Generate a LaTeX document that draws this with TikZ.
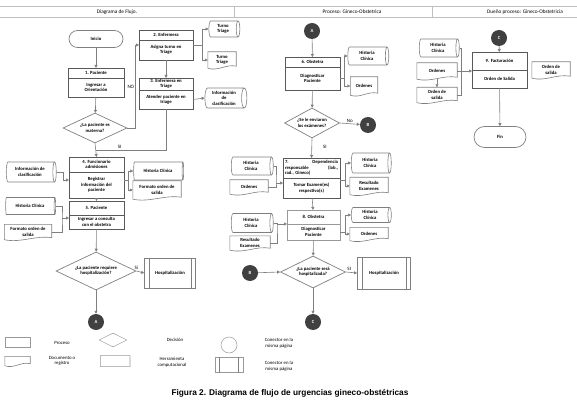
\documentclass[tikz,border=0pt]{standalone}
\usepackage{fontspec}
\setmainfont{Carlito}
\newfontfamily\capfont{Liberation Sans}
\usepackage{tikz}
\usetikzlibrary{positioning,arrows.meta,shapes.geometric,shapes.misc,calc}
\usepackage{xcolor}
\definecolor{lngray}{HTML}{7F7F7F}
\definecolor{boxgray}{HTML}{595959}
\definecolor{conngray}{HTML}{404040}

\begin{document}
\begin{tikzpicture}[x=1pt, y=-1pt,
    font=\fontsize{4.7}{5.4}\selectfont\bfseries,
    hdr/.style={draw=boxgray, line width=0.9pt, inner sep=0.5pt, outer sep=0pt, align=center},
    bdy/.style={hdr},
    term/.style={draw=lngray, line width=0.7pt, rounded rectangle, inner sep=1pt},
    dec/.style={draw=lngray, line width=0.7pt, diamond, inner sep=0pt, align=center},
    store/.style={draw=lngray, line width=0.6pt, cylinder, shape aspect=0.35, inner sep=0.5pt, align=center},
    doc/.style={inner sep=0.5pt, align=center},
    docln/.style={draw=lngray, line width=0.6pt},
    subproc/.style={draw=lngray, line width=0.7pt, align=center},
    conn/.style={circle, fill=conngray, text=white, minimum size=16pt, inner sep=0pt},
    flow/.style={draw=lngray, line width=0.6pt, -{Triangle[length=3pt, width=3pt]}},
    link/.style={draw=lngray, line width=0.6pt},
    lbl/.style={font=\fontsize{5}{6}\selectfont, inner sep=1pt},
    legshape/.style={draw=black!40, line width=0.5pt},
    legtxt/.style={font=\fontsize{4.8}{5.6}\selectfont\mdseries, align=center},
]
\useasboundingbox (0,0) rectangle (577,403);

% encabezado
\draw[black!25, line width=0.5pt] (0,6) -- (577,6) (0,17) -- (577,17) (234,6) -- (234,17) (432,6) -- (432,17);
\node[font=\fontsize{5.3}{6}\selectfont\mdseries] (tit1) at (117,12) {Diagrama de Flujo.};
\node[font=\fontsize{5.3}{6}\selectfont\mdseries] (tit2) at (352,12) {Proceso: Gineco-Obstetrica};
\node[font=\fontsize{5.3}{6}\selectfont\mdseries] (tit3) at (525,12) {Dueño proceso: Gineco-Obstetricia};

% columna 1 (cilindros: minimum height = largo, minimum width = alto)
\node[term, minimum width=56, minimum height=17] (Ini) at (96,39) {Inicio};
\node[hdr, minimum width=56, minimum height=10] (P1h) at (96,73) {1. Paciente};
\node[bdy, minimum width=56, minimum height=19, below=0pt of P1h] (P1) {Ingresar a\\Orientación};
\node[dec, aspect=2.1, minimum width=64, minimum height=30] (D1) at (95,128) {¿La paciente es\\materna?};
\node[hdr, minimum width=54, minimum height=10] (P2h) at (166,35) {2. Enfermera};
\node[bdy, minimum width=54, minimum height=20, below=0pt of P2h] (P2) {Asigna turno en\\Triage};
\node[store, minimum height=31, minimum width=16] (T1) at (223,29) {Turno\\Triage};
\node[doc, minimum width=28, minimum height=16] (T2) at (222,60) {Turno\\Triage};
\node[hdr, minimum width=54, minimum height=12] (P3h) at (166,84) {3. Enfermera en\\Triage};
\node[bdy, minimum width=54, minimum height=19, below=0pt of P3h] (P3) {Atender paciente en\\triage};
\node[store, minimum height=42, minimum width=20] (IC1) at (224,98) {Información\\de\\clasificación};
\node[hdr, minimum width=55, minimum height=15] (P4h) at (96.5,164.5) {4. Funcionario\\admisiones};
\node[bdy, minimum width=55, minimum height=26, below=0pt of P4h] (P4) {Registrar\\información del\\paciente};
\node[store, minimum height=50, minimum width=20] (IC2) at (30,172) {Información de\\clasificación};
\node[store, minimum height=50, minimum width=18] (HC1) at (158,171) {Historia Clínica};
\node[doc, minimum width=48, minimum height=18] (FO1) at (157,190) {Formato orden de\\salida};
\node[hdr, minimum width=55, minimum height=14] (P5h) at (96.5,208) {5. Paciente};
\node[bdy, minimum width=55, minimum height=14, below=0pt of P5h] (P5) {Ingresar a consulta\\con el obstetra};
\node[store, minimum height=50, minimum width=17] (HC2) at (30,206) {Historia Clínica};
\node[doc, minimum width=47, minimum height=15] (FO2) at (28,232) {Formato orden de\\salida};
\node[dec, aspect=2.1, minimum width=80, minimum height=38] (D2) at (96,271) {¿La paciente requiere\\hospitalización?};
\node[subproc, minimum width=51, minimum height=30] (H1) at (170,273) {Hospitalización};
\node[conn] (A1) at (96,322) {A};

% columna 2
\node[conn] (A2) at (312,31) {A};
\node[hdr, minimum width=55, minimum height=10] (P6h) at (312.5,62) {6. Obstetra};
\node[bdy, minimum width=55, minimum height=23, below=0pt of P6h] (P6) {Diagnosticar\\Paciente};
\node[store, minimum height=41, minimum width=18] (HC3) at (367,56) {Historia\\Clínica};
\node[doc, minimum width=27, minimum height=18] (OR1) at (364,86) {Ordenes};
\node[dec, aspect=1.9, minimum width=55, minimum height=30] (D3) at (312,123) {¿Se le enviaron\\los exámenes?};
\node[conn] (B1) at (368,125) {B};
\node[hdr, minimum width=57, minimum height=20, text width=53, align=left] (P7h) at (311.5,168) {7.\hfill Dependencia\\responsable\hfill(lab.,\\rad., Gineco)};
\node[bdy, minimum width=57, minimum height=20, below=0pt of P7h] (P7) {Tomar Examen(es)\\respectivo(s)};
\node[store, minimum height=42, minimum width=18] (HC4) at (251,166) {Historia\\Clínica};
\node[doc, minimum width=38, minimum height=14] (OR2) at (249,187) {Ordenes};
\node[store, minimum height=40, minimum width=20] (HC5) at (370,163) {Historia\\Clínica};
\node[doc, minimum width=38, minimum height=17] (RE1) at (369,186) {Resultado\\Examenes};
\node[hdr, draw=black!40, minimum width=53, minimum height=14] (P8h) at (313.5,217) {8. Obstetra};
\node[bdy, draw=black!40, minimum width=53, minimum height=16, below=0pt of P8h] (P8) {Diagnosticar\\Paciente};
\node[store, minimum height=42, minimum width=19] (HC6) at (251,223) {Historia\\Clínica};
\node[doc, minimum width=40, minimum height=14] (RE2) at (250,243) {Resultado\\Examenes};
\node[store, minimum height=40, minimum width=15] (HC7) at (370,215) {Historia\\Clínica};
\node[doc, minimum width=38, minimum height=13] (OR3) at (369,234) {Ordenes};
\node[dec, aspect=2, minimum width=65, minimum height=32] (D4) at (313,272) {¿La paciente será\\hospitalizada?};
\node[conn] (B2) at (250,273) {B};
\node[subproc, minimum width=53, minimum height=32] (H2) at (384,273) {Hospitalización};
\node[conn] (C1) at (313,322) {C};

% columna 3
\node[conn] (C2) at (499,38) {C};
\node[hdr, minimum width=55, minimum height=18] (P9h) at (499.5,61) {9. Facturación};
\node[bdy, minimum width=55, minimum height=18, below=0pt of P9h] (P9) {Orden de Salida};
\node[doc, minimum width=38, minimum height=16] (OS1) at (551,70) {Orden de\\salida};
\node[store, minimum height=40, minimum width=18] (HC8) at (438,48) {Historia\\Clínica};
\node[doc, minimum width=40, minimum height=16] (OR4) at (437,71) {Ordenes};
\node[doc, minimum width=40, minimum height=15] (OS2) at (437,95) {Orden de\\salida};
\node[term, minimum width=54, minimum height=21] (Fin) at (500,137) {Fin};

% convenciones
\node[legshape, minimum width=25, minimum height=10] (L1) at (17.5,342) {};
\node[legtxt] (L1t) at (62,343) {Proceso};
\node[legshape, diamond, aspect=2, minimum width=28, minimum height=14] (L2) at (113,340) {};
\node[legtxt] (L2t) at (175,340) {Decisión};
\node[legshape, circle, minimum size=16] (L3) at (229,345) {};
\node[legtxt] (L3t) at (279,343) {Conector en la\\misma página};
\node[doc, minimum width=25, minimum height=9] (L4) at (17.5,361) {};
\node[legtxt] (L4t) at (62,361) {Documento o\\registro};
\node[store, legshape, minimum height=30, minimum width=11] (L5) at (115,361) {};
\node[legtxt] (L5t) at (172,362) {Herramienta\\computacional};
\node[subproc, legshape, minimum width=28, minimum height=15] (L6) at (229,365) {};
\node[legtxt] (L6t) at (279,366) {Conector en la\\misma página};

\node[font=\capfont\bfseries\fontsize{8.3}{10}\selectfont] (cap) at (290,393) {Figura 2. Diagrama de flujo de urgencias gineco-obstétricas};

% contornos de documento y subproceso
\foreach \dn in {T2,FO1,FO2,OR1,OR2,RE1,RE2,OR3,OS1,OR4,OS2,L4}
  \draw[docln] (\dn.north west) -- (\dn.north east) -- ([yshift=2pt]\dn.south east)
    .. controls ($(\dn.south east)!0.35!(\dn.south west)+(0pt,4.5pt)$) and ($(\dn.south east)!0.65!(\dn.south west)+(0pt,-3.5pt)$) .. (\dn.south west) -- cycle;
\foreach \sn in {H1,H2,L6}
  \draw[link] ([xshift=5pt]\sn.north west) -- ([xshift=5pt]\sn.south west) ([xshift=-5pt]\sn.north east) -- ([xshift=-5pt]\sn.south east);

% conectores columna 1
\draw[flow] (Ini) -- (P1h);
\draw[flow] (P1) -- (D1);
\draw[flow] (D1.east) -- ++(8,0) |- node[lbl, left, pos=0.25] {NO} ([yshift=5pt]P2.west);
\draw[flow] (P2) -- (P3h);
\draw[link] ([yshift=5pt]P2.east) -- ++(9,0) coordinate (j2);
\draw[flow] (j2) |- (T1.west);
\draw[flow] (j2) |- (T2.west);
\draw[flow] (P3.east) -- (IC1.west);
\draw[link] (P3.south) |- node[lbl, above, pos=0.83] {SI} ($(D1.south)!0.5!(P4h.north)$);
\draw[flow] (D1.south) -- (P4h.north);
\draw[flow] (IC2.east) -- ++(7,0) |- ([yshift=5pt]P4.west);
\draw[link] ([yshift=5pt]P4.east) -- ++(4,0) coordinate (j4);
\draw[flow] (j4) |- (HC1.west);
\draw[flow] (j4) |- (FO1.west);
\draw[flow] (P4) -- (P5h);
\coordinate (j5) at (62,218);
\draw[link] (HC2.east) -| (j5) |- (FO2.east);
\draw[flow] (j5) -- (j5 -| P5.west);
\draw[flow] (P5) -- (D2);
\draw[flow] (D2.east) -- node[lbl, above, pos=0] {Si} (H1.west);
\draw[flow] (D2.south) -- (A1);

% conectores columna 2
\draw[flow] (A2) -- (P6h);
\draw[link] (P6.east) -- ++(4,0) coordinate (j6);
\draw[flow] (j6) |- (HC3.west);
\draw[flow] (j6) |- (OR1.west);
\draw[flow] (P6) -- (D3);
\draw[flow] (D3.east) -- node[lbl, above] {No} (B1);
\draw[flow] (D3.south) -- node[lbl, right=10pt, pos=0.45] {SI} (P7h.north);
\coordinate (j7) at (276,183);
\draw[link] (HC4.east) -| (j7) |- (OR2.east);
\draw[flow] (j7) -- (j7 -| P7.west);
\draw[link] ([yshift=8pt]P7.east) -- ++(5,0) coordinate (k7);
\draw[flow] (k7) |- (HC5.west);
\draw[flow] (k7) |- (RE1.west);
\draw[flow] (P7) -- (P8h);
\coordinate (j8) at (277,224);
\draw[link] (HC6.east) -| (j8) |- (RE2.east);
\draw[flow] (j8) -- (P8h.south west);
\draw[link] (P8.east) -- ++(5,0) coordinate (k8);
\draw[flow] (k8) |- (HC7.west);
\draw[flow] (k8) |- (OR3.west);
\draw[flow] (P8) -- (D4);
\draw[flow] (B2) -- (D4.west);
\draw[flow] (D4.east) -- node[lbl, above, pos=0.3] {SI} (H2.west);
\draw[flow] (D4.south) -- (C1);

% conectores columna 3
\draw[flow] (C2) -- (P9h);
\draw[link] (HC8.east) -| ([xshift=4pt]OS2.east) -- (OS2.east);
\draw[flow] (OR4.east) -- (OR4.east -| P9.west);
\draw[flow] (OR4.south) -- (OS2.north);
\draw[flow] (P9) -- (Fin);
\end{tikzpicture}
\end{document}
